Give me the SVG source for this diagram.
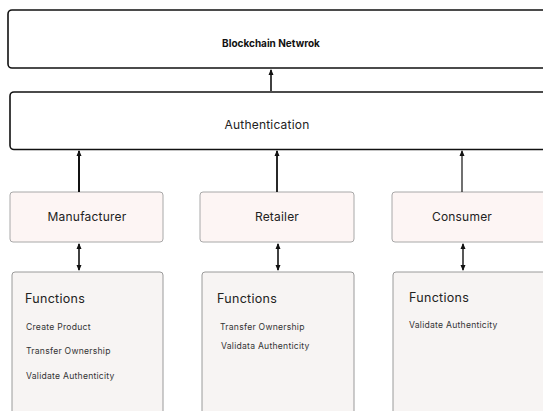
<svg xmlns="http://www.w3.org/2000/svg" width="543" height="411" viewBox="0 0 543 411">
<style>
text{font-family:Inter,"Noto Sans","Liberation Sans",sans-serif;fill:#222}
.main{fill:#fff;stroke:#111;stroke-width:1.6}
.role{fill:#fdf5f4;stroke:#a8a8a8;stroke-width:1}
.func{fill:#f7f4f3;stroke:#9a9a9a;stroke-width:1}
.t1{font-size:10px;font-weight:700;fill:#111}
.t2{font-size:12px;letter-spacing:0.2px}
.h{font-size:12.5px;letter-spacing:0.3px}
.s{font-size:8.6px;letter-spacing:0.25px;fill:#333}
.c{fill:none;stroke:#111}
</style>
<defs>
<marker id="ah" viewBox="0 0 6 6" refX="5" refY="3" markerWidth="6" markerHeight="6" markerUnits="userSpaceOnUse" orient="auto-start-reverse">
<path d="M0,0.5 L6,3 L0,5.5 Z" fill="#111"/>
</marker>
</defs>
<g id="blockchain">
<rect class="main" x="8" y="10" width="560" height="58" rx="4"/>
<text class="t1" x="271" y="47" text-anchor="middle">Blockchain Netwrok</text>
</g>
<g id="authentication">
<rect class="main" x="10" y="92" width="560" height="57.5" rx="4" stroke-width="2"/>
<text class="t2" x="267" y="129" text-anchor="middle">Authentication</text>
</g>
<g id="manufacturer">
<rect class="role" x="10" y="192" width="153" height="50" rx="3"/>
<text class="t2" x="87" y="221" text-anchor="middle">Manufacturer</text>
</g>
<g id="retailer">
<rect class="role" x="200" y="192" width="154" height="50" rx="3"/>
<text class="t2" x="277" y="221" text-anchor="middle">Retailer</text>
</g>
<g id="consumer">
<rect class="role" x="392" y="192" width="170" height="50" rx="3"/>
<text class="t2" x="462" y="221" text-anchor="middle">Consumer</text>
</g>
<g id="manufacturer-functions">
<rect class="func" x="12" y="272" width="151" height="160" rx="3"/>
<text class="h" x="25" y="303">Functions</text>
<text class="s" x="26" y="330">Create Product</text>
<text class="s" x="26" y="354">Transfer Ownership</text>
<text class="s" x="26" y="379">Validate Authenticity</text>
</g>
<g id="retailer-functions">
<rect class="func" x="202" y="272" width="152" height="160" rx="3"/>
<text class="h" x="217" y="303">Functions</text>
<text class="s" x="220" y="330">Transfer Ownership</text>
<text class="s" x="221" y="349">Validata Authenticity</text>
</g>
<g id="consumer-functions">
<rect class="func" x="393" y="272" width="170" height="160" rx="3"/>
<text class="h" x="409" y="302">Functions</text>
<text class="s" x="409" y="328">Validate Authenticity</text>
</g>
<g id="connectors">
<line class="c" x1="271" y1="91" x2="271" y2="70" stroke-width="1.6" marker-end="url(#ah)"/>
<line class="c" x1="79" y1="192" x2="79" y2="151" stroke-width="2" marker-end="url(#ah)"/>
<line class="c" x1="277" y1="192" x2="277" y2="151" stroke-width="1.8" stroke="#333" marker-end="url(#ah)"/>
<line class="c" x1="462" y1="192" x2="462" y2="151" stroke-width="1.2" stroke="#333" marker-end="url(#ah)"/>
<line class="c" x1="79" y1="244" x2="79" y2="270" stroke-width="1.6" marker-start="url(#ah)" marker-end="url(#ah)"/>
<line class="c" x1="278" y1="244" x2="278" y2="270" stroke-width="1.6" stroke="#333" marker-start="url(#ah)" marker-end="url(#ah)"/>
<line class="c" x1="463" y1="244" x2="463" y2="270" stroke-width="1.4" stroke="#333" marker-start="url(#ah)" marker-end="url(#ah)"/>
</g>
</svg>
